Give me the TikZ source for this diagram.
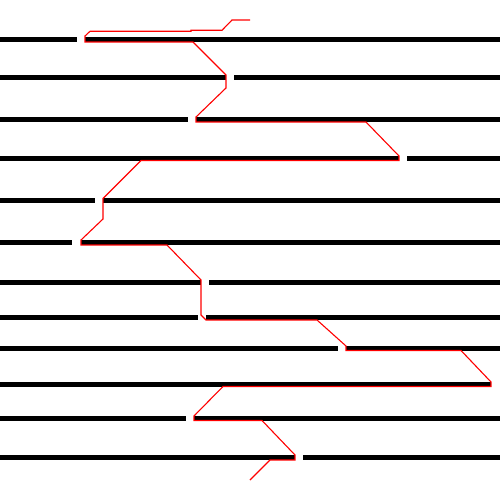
\documentclass[tikz,border=0pt]{standalone}
\usepackage{tikz}
\usetikzlibrary{calc}

\begin{document}
\begin{tikzpicture} [x=0.02cm, y=-0.02cm]
\tikzset{
  slab/.style={black, line width=0.1cm},
  walk/.style={red, line width=0.022cm, line join=miter}
}
\useasboundingbox (0,0) rectangle (500,500);

% thick lines, each with its gap: y / gap start / gap end
\foreach \y/\ga/\gb in {39.5/77/85, 77.5/226/234, 119.5/188/196, 158/399/407,
  200.5/95/103, 242.5/72/81, 282.5/201/209, 317.5/198/206, 348/338/346,
  384/491/500, 418/186/194, 457.5/295/303}
{
\draw[slab] (0,\y) -- (\ga,\y);
\draw[slab] (\gb,\y) -- (500,\y);
}

% the path through the gaps
\draw[walk] (250,20) -- (232,20) -- (222,30.3) -- (191,30.3) -- (191,31.3)
  -- (90,31.3) -- (85,36) -- (85,42) -- (193,42) -- (226,75) -- (226,88)
  -- (196,117) -- (196,122) -- (366,122) -- (399,156) -- (399,160.5)
  -- (141,160.5) -- (103,198.5) -- (103,219) -- (81,240) -- (81,245)
  -- (167,245) -- (201,280) -- (201,315) -- (206,320) -- (317,320)
  -- (346,346) -- (346,350.5) -- (461,350.5) -- (491,382) -- (491,386.5)
  -- (223,386.5) -- (194,416) -- (194,420.5) -- (262,420.5) -- (295,455)
  -- (295,460) -- (270,460) -- (250,480);

\end{tikzpicture}
\end{document}
